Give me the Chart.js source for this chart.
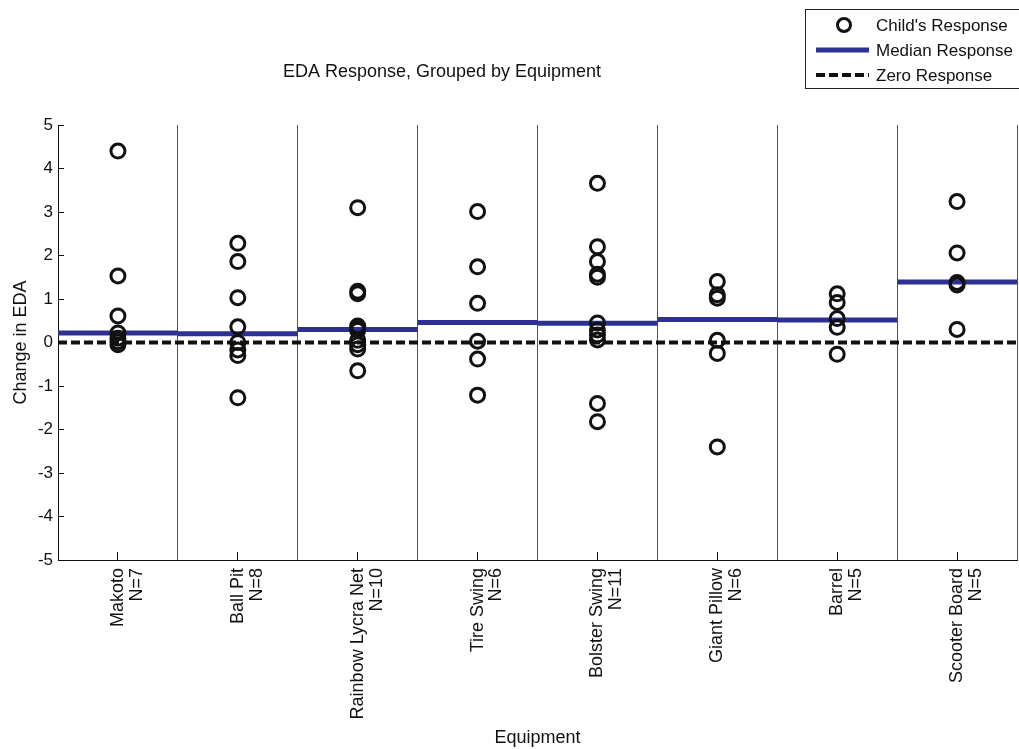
<!DOCTYPE html>
<html>
<head>
<meta charset="utf-8">
<title>EDA Response, Grouped by Equipment</title>
<script src="https://cdn.jsdelivr.net/npm/chart.js@4.4.1/dist/chart.umd.min.js"></script>
<style>
  body { margin: 0; background: #fff; }
  #wrap { width: 1019px; height: 749px; }
</style>
</head>
<body>
<div id="wrap"><canvas id="eda" width="1019" height="749"></canvas></div>
<script>
/** Data **/
const chartTitle = 'EDA Response, Grouped by Equipment';
const equipment = ['Makoto', 'Ball Pit', 'Rainbow Lycra Net', 'Tire Swing',
                   'Bolster Swing', 'Giant Pillow', 'Barrel', 'Scooter Board'];
const counts = [7, 8, 10, 6, 11, 6, 5, 5];

// change in EDA for each child, one list per piece of equipment
const makoto      = [4.4, 1.53, 0.61, 0.22, 0.1, 0.02, -0.05];
const ballPit     = [2.28, 1.86, 1.03, 0.36, 0.0, -0.17, -0.3, -1.27];
const rainbowNet  = [3.1, 1.18, 1.12, 0.38, 0.32, 0.28, 0.05, -0.05, -0.15, -0.65];
const tireSwing   = [3.01, 1.74, 0.9, 0.03, -0.38, -1.21];
const bolster     = [3.66, 2.2, 1.86, 1.57, 1.5, 0.45, 0.29, 0.17, 0.06, -1.4, -1.82];
const giantPillow = [1.4, 1.1, 1.02, 0.05, -0.25, -2.4];
const barrel      = [1.12, 0.92, 0.55, 0.35, -0.27];
const scooter     = [3.24, 2.06, 1.38, 1.32, 0.3];
const responses = [makoto, ballPit, rainbowNet, tireSwing, bolster, giantPillow, barrel, scooter];

const medians = [0.22, 0.2, 0.3, 0.46, 0.44, 0.53, 0.52, 1.39];
const yTicks = [-5, -4, -3, -2, -1, 0, 1, 2, 3, 4, 5];

/** build the point lists for the library **/
const childPoints = [];
responses.forEach(function (list, i) {
  list.forEach(function (v) { childPoints.push({ x: i + 1, y: v }); });
});

// one flat segment per group, null in between so they do not join
const medianPoints = [];
medians.forEach(function (m, i) {
  medianPoints.push({ x: i + 0.5, y: m });
  medianPoints.push({ x: i + 1.5, y: m });
  medianPoints.push({ x: i + 1.5, y: null });
});

const zeroPoints = [{ x: 0.5, y: 0 }, { x: equipment.length + 0.5, y: 0 }];

const FONT = '"Liberation Sans", Arial, sans-serif';
const BLUE = '#2e3192';

/* title and legend box drawn over the canvas */
const overlay = {
  id: 'overlay',
  afterDraw(chart) {
    const ctx = chart.ctx;
    ctx.save();
    ctx.fillStyle = '#111';
    ctx.font = '18px ' + FONT;
    ctx.textAlign = 'center';
    ctx.textBaseline = 'middle';
    ctx.fillText(chartTitle, 442, 72);

    // legend
    ctx.strokeStyle = '#222';
    ctx.lineWidth = 1;
    ctx.strokeRect(805.5, 9.5, 240, 79);
    ctx.font = '17px ' + FONT;
    const rows = [25, 50, 75];
    chart.data.datasets.forEach(function (ds, i) {
      const y = rows[i];
      ctx.save();
      if (ds.type === 'scatter') {
        ctx.beginPath();
        ctx.lineWidth = ds.borderWidth;
        ctx.strokeStyle = ds.borderColor;
        ctx.arc(844, y, ds.pointRadius - 0.5, 0, Math.PI * 2);
        ctx.stroke();
      } else {
        ctx.beginPath();
        ctx.lineWidth = ds.borderWidth;
        ctx.strokeStyle = ds.borderColor;
        ctx.setLineDash(ds.borderDash || []);
        ctx.moveTo(816, y);
        ctx.lineTo(869, y);
        ctx.stroke();
      }
      ctx.restore();
      ctx.fillStyle = '#111';
      ctx.textAlign = 'left';
      ctx.fillText(ds.label, 876, y + 1);
    });
    ctx.restore();
  }
};

const ctx = document.getElementById('eda').getContext('2d');
const chart = new Chart(ctx, {
  data: {
    datasets: [
      {
        type: 'scatter',
        label: "Child's Response",
        data: childPoints,
        pointStyle: 'circle',
        pointRadius: 7,
        borderWidth: 3,
        borderColor: '#111',
        backgroundColor: 'rgba(0,0,0,0)',
        order: 1
      },
      {
        type: 'line',
        label: 'Median Response',
        data: medianPoints,
        borderColor: BLUE,
        borderWidth: 5,
        pointRadius: 0,
        spanGaps: false,
        fill: false,
        order: 2
      },
      {
        type: 'line',
        label: 'Zero Response',
        data: zeroPoints,
        borderColor: '#111',
        borderWidth: 4,
        borderDash: [9, 4],
        pointRadius: 0,
        fill: false,
        order: 3
      }
    ]
  },
  options: {
    responsive: false,
    animation: false,
    layout: { autoPadding: false, padding: { top: 125, right: 2, left: 0, bottom: 0 } },
    plugins: {
      legend: { display: false },
      title: { display: false },
      tooltip: { enabled: false }
    },
    scales: {
      x: {
        type: 'linear',
        position: 'bottom',
        min: 0.5,
        max: equipment.length + 0.5,
        afterBuildTicks: function (scale) {
          scale.ticks = equipment.map(function (e, i) { return { value: i + 1 }; });
        },
        afterFit: function (scale) {
          scale.height = 189;
          scale.paddingLeft = 0;
          scale.paddingRight = 0;
        },
        ticks: {
          autoSkip: false,
          minRotation: 90,
          maxRotation: 90,
          padding: 16,
          color: '#111',
          font: { family: FONT, size: 18, lineHeight: 1.05 },
          callback: function (v) {
            return [equipment[v - 1], 'N=' + counts[v - 1]];
          }
        },
        grid: { drawOnChartArea: false, tickLength: -8, color: '#111' },
        border: { display: true, color: '#111', width: 1 },
        title: {
          display: true,
          text: 'Equipment',
          color: '#111',
          font: { family: FONT, size: 18 },
          padding: { top: 0, bottom: 0 }
        }
      },
      xdiv: {
        type: 'linear',
        position: 'bottom',
        min: 0.5,
        max: equipment.length + 0.5,
        afterBuildTicks: function (scale) {
          scale.ticks = [];
          for (let i = 0; i <= equipment.length; i++) scale.ticks.push({ value: i + 0.5 });
        },
        afterFit: function (scale) {
          scale.height = 0;
          scale.paddingLeft = 0;
          scale.paddingRight = 0;
        },
        ticks: { display: false },
        grid: { drawOnChartArea: true, drawTicks: false, color: '#555', lineWidth: 1 },
        border: { display: false }
      },
      y: {
        type: 'linear',
        min: -5,
        max: 5,
        afterBuildTicks: function (scale) {
          scale.ticks = yTicks.map(function (v) { return { value: v }; });
        },
        afterFit: function (scale) {
          scale.width = 58;
          scale.paddingTop = 0;
          scale.paddingBottom = 0;
        },
        ticks: {
          padding: 11,
          color: '#111',
          font: { family: FONT, size: 17 }
        },
        grid: { drawOnChartArea: false, tickLength: -6, color: '#111' },
        border: { display: true, color: '#111', width: 1 },
        title: {
          display: true,
          text: 'Change in EDA',
          color: '#111',
          font: { family: FONT, size: 18 },
          padding: { top: 10, bottom: 0 }
        }
      }
    }
  },
  plugins: [overlay]
});
</script>
</body>
</html>
